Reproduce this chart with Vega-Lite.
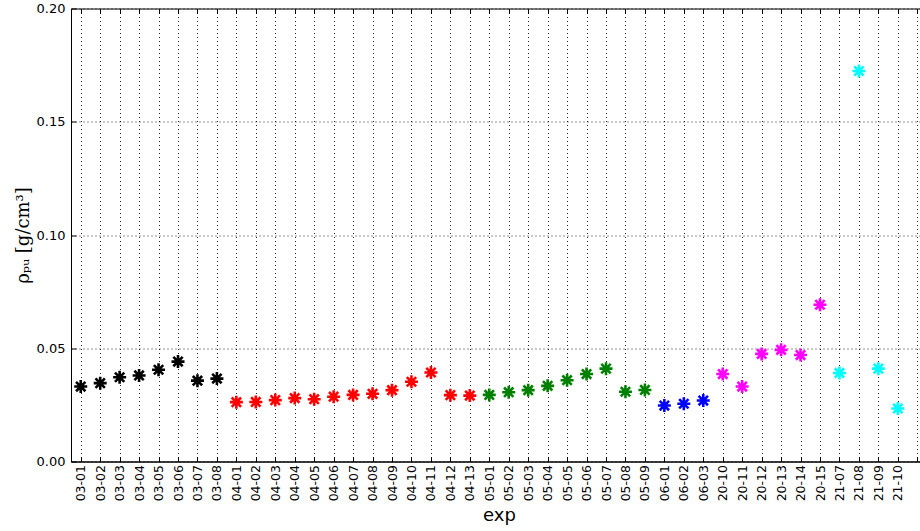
{
  "$schema": "https://vega.github.io/schema/vega-lite/v6.json",
  "width": 856,
  "height": 453,
  "autosize": {"type": "none"},
  "padding": {"left": 71, "top": 8.5, "right": 0, "bottom": 70},
  "background": "white",
  "config": {
    "view": {"stroke": "black", "strokeWidth": 1},
    "axis": {"labelFont": "DejaVu Sans", "labelFontSize": 12.5, "labelColor": "black", "titleColor": "black", "domainColor": "black", "tickColor": "black", "gridColor": "black", "gridDash": [1, 3], "gridOpacity": 0.85, "gridWidth": 1}
  },
  "data": {"values": [
    {"exp": "03-01", "rho": 0.0331, "g": "03"},
    {"exp": "03-02", "rho": 0.0346, "g": "03"},
    {"exp": "03-03", "rho": 0.0372, "g": "03"},
    {"exp": "03-04", "rho": 0.0380, "g": "03"},
    {"exp": "03-05", "rho": 0.0405, "g": "03"},
    {"exp": "03-06", "rho": 0.0441, "g": "03"},
    {"exp": "03-07", "rho": 0.0357, "g": "03"},
    {"exp": "03-08", "rho": 0.0366, "g": "03"},
    {"exp": "04-01", "rho": 0.0262, "g": "04"},
    {"exp": "04-02", "rho": 0.0263, "g": "04"},
    {"exp": "04-03", "rho": 0.0271, "g": "04"},
    {"exp": "04-04", "rho": 0.0280, "g": "04"},
    {"exp": "04-05", "rho": 0.0275, "g": "04"},
    {"exp": "04-06", "rho": 0.0286, "g": "04"},
    {"exp": "04-07", "rho": 0.0294, "g": "04"},
    {"exp": "04-08", "rho": 0.0299, "g": "04"},
    {"exp": "04-09", "rho": 0.0315, "g": "04"},
    {"exp": "04-10", "rho": 0.0352, "g": "04"},
    {"exp": "04-11", "rho": 0.0393, "g": "04"},
    {"exp": "04-12", "rho": 0.0293, "g": "04"},
    {"exp": "04-13", "rho": 0.0291, "g": "04"},
    {"exp": "05-01", "rho": 0.0294, "g": "05"},
    {"exp": "05-02", "rho": 0.0306, "g": "05"},
    {"exp": "05-03", "rho": 0.0315, "g": "05"},
    {"exp": "05-04", "rho": 0.0334, "g": "05"},
    {"exp": "05-05", "rho": 0.0359, "g": "05"},
    {"exp": "05-06", "rho": 0.0386, "g": "05"},
    {"exp": "05-07", "rho": 0.0410, "g": "05"},
    {"exp": "05-08", "rho": 0.0308, "g": "05"},
    {"exp": "05-09", "rho": 0.0316, "g": "05"},
    {"exp": "06-01", "rho": 0.0247, "g": "06"},
    {"exp": "06-02", "rho": 0.0255, "g": "06"},
    {"exp": "06-03", "rho": 0.0269, "g": "06"},
    {"exp": "20-10", "rho": 0.0386, "g": "20"},
    {"exp": "20-11", "rho": 0.0331, "g": "20"},
    {"exp": "20-12", "rho": 0.0475, "g": "20"},
    {"exp": "20-13", "rho": 0.0493, "g": "20"},
    {"exp": "20-14", "rho": 0.0470, "g": "20"},
    {"exp": "20-15", "rho": 0.0692, "g": "20"},
    {"exp": "21-07", "rho": 0.0391, "g": "21"},
    {"exp": "21-08", "rho": 0.1724, "g": "21"},
    {"exp": "21-09", "rho": 0.0410, "g": "21"},
    {"exp": "21-10", "rho": 0.0234, "g": "21"}
  ]},
  "layer": [
    {
      "mark": {"type": "point", "shape": "M-1,0L1,0M0,-1L0,1M-0.72,-0.72L0.72,0.72M-0.72,0.72L0.72,-0.72", "size": 169, "strokeWidth": 2.6, "filled": false, "opacity": 1},
      "encoding": {
        "x": {"field": "exp", "type": "ordinal",
          "scale": {"type": "point", "padding": 0.5, "domain": ["03-01","03-02","03-03","03-04","03-05","03-06","03-07","03-08","04-01","04-02","04-03","04-04","04-05","04-06","04-07","04-08","04-09","04-10","04-11","04-12","04-13","05-01","05-02","05-03","05-04","05-05","05-06","05-07","05-08","05-09","06-01","06-02","06-03","20-10","20-11","20-12","20-13","20-14","20-15","21-07","21-08","21-09","21-10",""]},
          "axis": {"title": "exp", "titleFont": "DejaVu Sans", "titleFontSize": 18, "titleFontWeight": "normal", "titlePadding": 6, "labelAngle": -90, "labelPadding": 8, "labelFont": "DejaVu Sans", "labelFontSize": 12.5, "tickSize": -5, "grid": true, "domain": true}
        },
        "y": {"field": "rho", "type": "quantitative",
          "scale": {"domain": [0, 0.2], "nice": false, "zero": true},
          "axis": {"title": "ρₚᵤ [g/cm³]", "titleFont": "DejaVu Serif", "titleFontSize": 18, "titleFontWeight": "normal", "titlePadding": 4, "values": [0, 0.05, 0.1, 0.15, 0.2], "format": ".2f", "labelFont": "DejaVu Sans", "labelFontSize": 13, "tickSize": -5, "labelPadding": 11, "grid": true}
        },
        "stroke": {"field": "g", "type": "nominal", "legend": null,
          "scale": {"domain": ["03","04","05","06","20","21"], "range": ["#000000","#ff0000","#008000","#0000ff","#ff00ff","#00ffff"]}}
      }
    },
    {
      "mark": {"type": "point", "opacity": 0},
      "encoding": {
        "x": {"field": "exp", "type": "ordinal",
          "scale": {"type": "point", "padding": 0.5},
          "axis": {"orient": "top", "labels": false, "title": null, "tickSize": -5, "grid": false, "domain": false}
        },
        "y": {"field": "rho", "type": "quantitative"}
      }
    }
  ],
  "resolve": {"axis": {"x": "independent"}}
}
